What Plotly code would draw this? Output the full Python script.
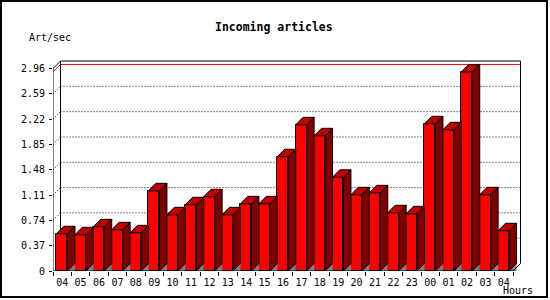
import plotly.graph_objects as go

# ---- data ----
hours = ["04", "05", "06", "07", "08", "09", "10", "11", "12", "13", "14", "15", "16",
         "17", "18", "19", "20", "21", "22", "23", "00", "01", "02", "03", "04"]
art_per_sec = [0.544, 0.529, 0.646, 0.602, 0.558, 1.172, 0.821, 0.968, 1.085, 0.821, 0.982, 0.982,
               1.670, 2.137, 1.976, 1.370, 1.114, 1.143, 0.851, 0.836, 2.152, 2.064, 2.910, 1.114, 0.588]
ytick_vals = [0, 0.37, 0.74, 1.11, 1.48, 1.85, 2.22, 2.59, 2.96]
ytick_text = ["0", "0.37", "0.74", "1.11", "1.48", "1.85", "2.22", "2.59", "2.96"]
title = "Incoming articles"
y_title = "Art/sec"
x_title = "Hours"

# ---- geometry (pixels) ----
W, H = 550, 300
L, R, T, B = 53, 523, 57, 271
KX = 18.4          # px per category
KY = 68.4          # px per value unit
DEPTH = 7.5        # px 3D offset
n = len(hours)
xr = (R - L) / KX
yr = (B - T) / KY
dX = DEPTH / KX
dY = DEPTH / KY
ymax = ytick_vals[-1]
vmax = max(art_per_sec)
BW = 0.6
OFF = 0.185

def px_x(px):
    return (px - L) / (R - L)

def px_y(py):
    return (B - py) / (B - T)

fig = go.Figure()

# front faces
fig.add_trace(go.Bar(
    x=[i + OFF + BW / 2 for i in range(n)], y=art_per_sec, width=BW,
    marker=dict(color="#ff0000", line=dict(color="black", width=1)),
    hoverinfo="skip", showlegend=False))

def faces(kind):
    xs, ys = [], []
    for i, v in enumerate(art_per_sec):
        x0 = i + OFF
        x1 = x0 + BW
        if kind == "shadow":
            px = [x1, x1 + dX, x1 + dX, x1]
            py = [0, dY, 0, 0]
        elif kind == "side":
            px = [x1, x1 + dX, x1 + dX, x1, x1]
            py = [0, dY, v + dY, v, 0]
        else:
            px = [x0, x1, x1 + dX, x0 + dX, x0]
            py = [v, v, v + dY, v + dY, v]
        xs += px + [None]
        ys += py + [None]
    return xs, ys

for kind, col, lc in [("shadow", "#808080", "rgba(0,0,0,0)"), ("side", "#800000", "black"), ("top", "#c00000", "black")]:
    xs, ys = faces(kind)
    fig.add_trace(go.Scatter(x=xs, y=ys, mode="lines", fill="toself", fillcolor=col,
                             line=dict(color=lc, width=1), hoverinfo="skip", showlegend=False))

shapes = []
def line(x0, y0, x1, y1, color="black", width=1, dash="solid", layer="above"):
    shapes.append(dict(type="line", xref="x", yref="y", x0=x0, y0=y0, x1=x1, y1=y1,
                       line=dict(color=color, width=width, dash=dash), layer=layer))

# back gridlines and left-wall diagonals
for t in ytick_vals[1:-1]:
    line(dX, t + dY, n + dX, t + dY, dash="1px,2px", layer="below")
    line(0, t, dX, t + dY, dash="1px,2px", layer="below")
# max line
line(dX, vmax + dY, n + dX, vmax + dY, color="#ff0000", layer="below")
line(0, vmax, dX, vmax + dY, color="#ff0000", layer="below")
# back frame
line(dX, ymax + dY, n + dX, ymax + dY)
line(dX, dY, dX, ymax + dY, layer="below")
line(n + dX, dY, n + dX, ymax + dY)
line(n, 0, n + dX, dY)
line(0, ymax, dX, ymax + dY)
# front axes
line(0, 0, 0, ymax)
line(0, 0, n, 0)

# outer border
shapes.append(dict(type="rect", xref="paper", yref="paper",
                   x0=px_x(1), x1=px_x(547), y0=px_y(297), y1=px_y(1),
                   line=dict(color="black", width=2), layer="above"))

font = "DejaVu Sans Mono"
ann = [
    dict(text="<b>" + title + "</b>", x=px_x(274), y=px_y(27), xref="paper", yref="paper",
         showarrow=False, xanchor="center", yanchor="middle", font=dict(family=font, size=11.5, color="black")),
    dict(text=y_title, x=px_x(50), y=px_y(37), xref="paper", yref="paper",
         showarrow=False, xanchor="center", yanchor="middle", font=dict(family=font, size=10, color="black")),
    dict(text=x_title, x=px_x(518), y=px_y(290), xref="paper", yref="paper",
         showarrow=False, xanchor="center", yanchor="middle", font=dict(family=font, size=10, color="black")),
]

fig.update_layout(
    width=W, height=H, margin=dict(l=L, r=W - R, t=T, b=H - B, pad=0),
    paper_bgcolor="white", plot_bgcolor="white",
    shapes=shapes, annotations=ann, showlegend=False, bargap=0,
    xaxis=dict(range=[0, xr], showgrid=False, zeroline=False, showline=False,
               tickmode="array", tickvals=[i + 0.5 for i in range(n)], ticktext=hours,
               ticks="", ticklabelstandoff=4, tickfont=dict(family=font, size=10, color="black"),
               minor=dict(tick0=0, dtick=1, ticks="outside", ticklen=4, tickcolor="black", tickwidth=1, showgrid=False),
               fixedrange=True),
    yaxis=dict(range=[0, yr], showgrid=False, zeroline=False, showline=False,
               tickmode="array", tickvals=ytick_vals, ticktext=ytick_text,
               ticks="outside", ticklen=3, tickcolor="black", tickwidth=1, ticklabelstandoff=2,
               tickfont=dict(family=font, size=10, color="black"), fixedrange=True),
)

fig.write_html("out.html", config={"displayModeBar": False})
